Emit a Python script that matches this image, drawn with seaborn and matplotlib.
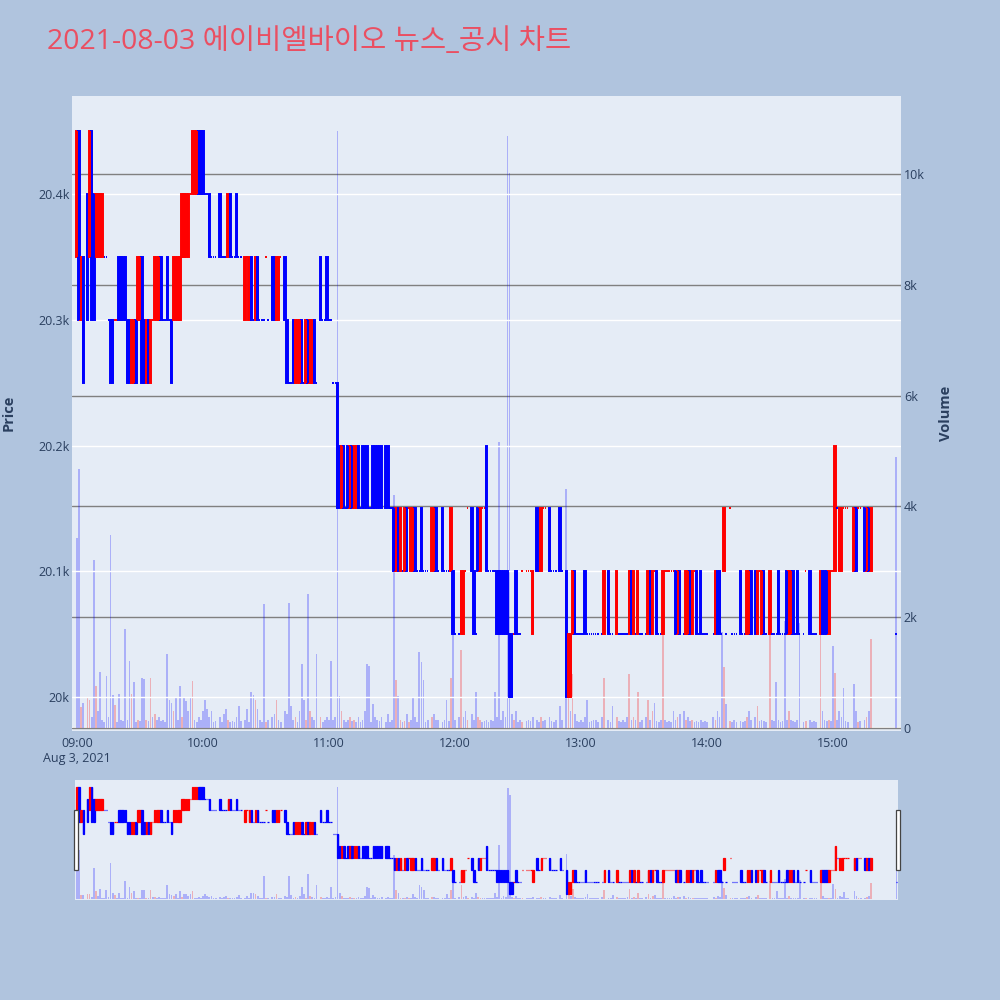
import matplotlib
matplotlib.use("Agg")
import matplotlib.pyplot as plt
from matplotlib.patches import Rectangle
import numpy as np
import pandas as pd
import seaborn as sns

# one row per traded minute, minutes after 09:00, prices in KRW
minutes = [
    0, 1, 2, 3, 5, 6, 7, 8, 9, 10, 11, 12, 13, 14, 15, 16, 17, 18, 19, 20, 21, 22, 23, 24, 25, 26, 27, 28, 29,
    30, 31, 32, 33, 34, 35, 36, 37, 38, 39, 40, 41, 42, 43, 44, 45, 46, 47, 48, 49, 50, 51, 52, 53, 54, 55, 56, 57, 58, 59,
    60, 61, 62, 63, 64, 65, 66, 68, 69, 70, 71, 72, 73, 74, 75, 76, 77, 78, 80, 81, 82, 83, 84, 85, 86, 87, 88, 89,
    90, 91, 93, 94, 95, 96, 97, 99, 100, 101, 102, 103, 104, 105, 106, 107, 108, 109, 110, 111, 112, 113, 114, 116, 117, 118, 119,
    120, 121, 122, 123, 124, 125, 126, 127, 128, 129, 130, 131, 132, 133, 134, 135, 136, 137, 138, 139, 140, 141, 142, 143, 144, 145,
    147, 148, 149, 150, 151, 152, 153, 154, 155, 156, 157, 158, 159, 160, 161, 162, 163, 164, 165, 166, 167,
    169, 170, 171, 172, 174, 175, 176, 177, 178, 179,
    180, 182, 183, 184, 185, 186, 188, 189, 190, 191, 192, 193, 194, 195, 196, 197, 198, 199, 200, 201, 202, 203, 204, 205, 206, 207,
    208, 209, 210, 211, 212, 214, 215, 216, 217, 219, 220, 221, 222, 223, 225, 226, 227, 228, 230, 231, 233, 234, 235, 236, 237, 238, 239,
    240, 241, 242, 243, 244, 245, 246, 247, 248, 250, 251, 253, 254, 255, 257, 258, 259, 260, 261, 262,
    263, 264, 265, 266, 267, 268, 269, 271, 272, 273, 274, 275, 276, 277, 278,
    279, 280, 281, 282, 283, 284, 285, 286, 287, 289, 290, 291, 292, 293, 294, 295, 296, 297, 298, 299,
    300, 303, 304, 305, 306, 307, 308, 309, 311, 312, 313, 314, 316, 317, 318, 319, 320, 321, 323, 324, 325, 326, 327, 328,
    330, 331, 332, 333, 334, 335, 336, 337, 338, 339, 340, 341, 342, 343, 344, 346, 347, 349, 350, 351, 352,
    354, 355, 356, 357, 358, 359,
    360, 361, 362, 363, 364, 365, 366, 367, 370, 371, 372, 373, 375, 376, 377, 378, 390,
]
opens = [
    20350, 20450, 20300, 20350, 20400, 20350, 20450, 20400, 20350, 20350, 20350, 20350, 20350, 20350, 20300, 20300, 20300, 20300,
    20300, 20350, 20350, 20350, 20350, 20300, 20300, 20250, 20250, 20300, 20300, 20300, 20350, 20300, 20250, 20300, 20250, 20300,
    20300, 20300, 20300, 20350, 20300, 20300, 20350, 20300, 20300, 20300, 20300, 20300, 20300, 20350, 20350, 20350, 20350, 20400,
    20400, 20400, 20400, 20450, 20450,
    20450, 20400, 20400, 20400, 20350, 20350, 20350, 20400, 20350, 20350, 20350, 20350, 20400, 20350, 20350, 20400, 20350, 20350,
    20300, 20350, 20300, 20350, 20300, 20300, 20350, 20300, 20300, 20300, 20350, 20300, 20350, 20350, 20300, 20300, 20350, 20350,
    20300, 20250, 20250, 20300, 20250, 20250, 20250, 20300, 20250, 20250, 20300, 20250, 20250, 20300, 20250, 20350, 20300, 20300, 20350,
    20300, 20300, 20250, 20250, 20250, 20200, 20150, 20200, 20150, 20200, 20150, 20200, 20150, 20150, 20200, 20150, 20200, 20200,
    20200, 20150, 20150, 20200, 20200, 20200, 20200, 20200,
    20200, 20200, 20150, 20150, 20150, 20100, 20150, 20100, 20100, 20100, 20150, 20150, 20100, 20100, 20150, 20100, 20100, 20150,
    20100, 20100, 20100,
    20100, 20100, 20150, 20100, 20150, 20100, 20100, 20100, 20100, 20100,
    20050, 20050, 20050, 20050, 20100, 20150, 20150, 20100, 20050, 20150, 20100, 20150, 20150, 20200, 20100, 20100, 20100, 20100,
    20100, 20100, 20100, 20100, 20100, 20100, 20050, 20050, 20050, 20100, 20050, 20050, 20100, 20100, 20100, 20100, 20050, 20150,
    20100, 20100, 20150, 20150, 20150, 20100, 20100, 20100, 20150, 20100, 20100, 20000, 20000, 20050, 20100, 20050, 20050,
    20050, 20050, 20100, 20050, 20050, 20050, 20050, 20050, 20050,
    20050, 20050, 20100, 20050, 20050, 20050,
    20050, 20050, 20050, 20050, 20050,
    20050, 20100, 20050, 20050, 20050, 20050, 20050,
    20050, 20050, 20100, 20050, 20100, 20100, 20050, 20050,
    20050, 20100, 20100, 20100, 20100, 20100, 20100, 20050, 20100,
    20050, 20050, 20050, 20100, 20050, 20100, 20100, 20050, 20100, 20050, 20050,
    20050, 20050, 20050, 20100, 20100, 20050, 20100, 20050,
    20150, 20050, 20050, 20050,
    20100, 20050, 20050, 20050, 20050, 20100,
    20100, 20050, 20100, 20050, 20100, 20050,
    20050, 20050, 20050, 20050, 20100, 20050, 20050, 20050, 20100, 20050, 20050, 20100, 20050, 20100, 20050,
    20050, 20100,
    20100, 20050, 20050, 20050,
    20050, 20100, 20100, 20100, 20050, 20100,
    20100, 20100, 20150, 20100, 20100, 20150, 20150, 20150,
    20100, 20150, 20150, 20150,
    20150, 20100, 20150, 20100,
    20050,
]
highs = [
    20450, 20450, 20350, 20350, 20400, 20450, 20450, 20400, 20400, 20400, 20400, 20400, 20350, 20350, 20300, 20300, 20300, 20300,
    20300, 20350, 20350, 20350, 20350, 20300, 20300, 20300, 20300, 20300, 20350, 20350, 20350, 20300, 20300, 20300, 20300, 20300,
    20350, 20350, 20350, 20350, 20300, 20300, 20350, 20300, 20300, 20350, 20350, 20350, 20350, 20400, 20400, 20400, 20400, 20400,
    20450, 20450, 20450, 20450, 20450,
    20450, 20400, 20400, 20400, 20350, 20350, 20350, 20400, 20350, 20350, 20350, 20400, 20400, 20350, 20350, 20400, 20350, 20350,
    20350, 20350, 20350, 20350, 20300, 20350, 20350, 20300, 20300, 20300, 20350, 20300, 20350, 20350, 20350, 20350, 20350, 20350,
    20300, 20250, 20250, 20300, 20300, 20300, 20300, 20300, 20250, 20300, 20300, 20300, 20300, 20300, 20250, 20350, 20300, 20300, 20350,
    20300, 20300, 20250, 20250, 20250, 20200, 20200, 20200, 20150, 20200, 20200, 20200, 20200, 20200, 20200, 20150, 20200, 20200,
    20200, 20150, 20150, 20200, 20200, 20200, 20200, 20200,
    20200, 20200, 20150, 20150, 20150, 20150, 20150, 20150, 20100, 20150, 20150, 20150, 20150, 20150, 20150, 20100, 20100, 20150,
    20100, 20100, 20100,
    20150, 20150, 20150, 20100, 20150, 20100, 20100, 20100, 20150, 20100,
    20050, 20050, 20100, 20100, 20100, 20150, 20150, 20100, 20050, 20150, 20150, 20150, 20150, 20200, 20100, 20100, 20100, 20100,
    20100, 20100, 20100, 20100, 20100, 20100, 20050, 20050, 20050, 20100, 20050, 20050, 20100, 20100, 20100, 20100, 20100, 20150,
    20100, 20150, 20150, 20150, 20150, 20100, 20100, 20100, 20150, 20100, 20100, 20050, 20050, 20100, 20100, 20050, 20050,
    20050, 20050, 20100, 20050, 20050, 20050, 20050, 20050, 20050,
    20050, 20100, 20100, 20050, 20050, 20100,
    20050, 20050, 20050, 20050, 20050,
    20100, 20100, 20100, 20050, 20100, 20050, 20050,
    20050, 20100, 20100, 20100, 20100, 20100, 20050, 20050,
    20100, 20100, 20100, 20100, 20100, 20100, 20100, 20100, 20100,
    20050, 20100, 20100, 20100, 20100, 20100, 20100, 20050, 20100, 20050, 20050,
    20050, 20050, 20100, 20100, 20100, 20050, 20150, 20050,
    20150, 20050, 20050, 20050,
    20100, 20050, 20050, 20100, 20100, 20100,
    20100, 20100, 20100, 20100, 20100, 20050,
    20100, 20050, 20050, 20050, 20100, 20050, 20050, 20050, 20100, 20100, 20100, 20100, 20050, 20100, 20050,
    20050, 20100,
    20100, 20050, 20050, 20050,
    20100, 20100, 20100, 20100, 20100, 20100,
    20100, 20200, 20150, 20150, 20150, 20150, 20150, 20150,
    20150, 20150, 20150, 20150,
    20150, 20150, 20150, 20150,
    20050,
]
lows = [
    20350, 20300, 20300, 20250, 20300, 20350, 20300, 20300, 20350, 20350, 20350, 20350, 20350, 20350, 20300, 20250, 20250, 20300,
    20300, 20300, 20300, 20300, 20300, 20250, 20250, 20250, 20250, 20250, 20300, 20300, 20250, 20250, 20250, 20250, 20250, 20300,
    20300, 20300, 20300, 20300, 20300, 20300, 20300, 20300, 20250, 20300, 20300, 20300, 20300, 20350, 20350, 20350, 20350, 20400,
    20400, 20400, 20400, 20400, 20400,
    20400, 20400, 20400, 20350, 20350, 20350, 20350, 20350, 20350, 20350, 20350, 20350, 20350, 20350, 20350, 20350, 20350, 20350,
    20300, 20350, 20300, 20300, 20300, 20300, 20300, 20300, 20300, 20300, 20350, 20300, 20300, 20300, 20300, 20300, 20350, 20300,
    20250, 20250, 20250, 20250, 20250, 20250, 20250, 20250, 20250, 20250, 20250, 20250, 20250, 20250, 20250, 20300, 20300, 20300, 20300,
    20300, 20300, 20250, 20250, 20150, 20150, 20150, 20150, 20150, 20150, 20150, 20150, 20150, 20150, 20150, 20150, 20150, 20150,
    20150, 20150, 20150, 20150, 20150, 20150, 20150, 20150,
    20150, 20150, 20150, 20150, 20100, 20100, 20100, 20100, 20100, 20100, 20100, 20150, 20100, 20100, 20100, 20100, 20100, 20100,
    20100, 20100, 20100,
    20100, 20100, 20100, 20100, 20100, 20100, 20100, 20100, 20100, 20050,
    20050, 20050, 20050, 20050, 20100, 20150, 20100, 20050, 20050, 20100, 20100, 20150, 20150, 20100, 20100, 20100, 20100, 20100,
    20050, 20050, 20050, 20050, 20050, 20050, 20000, 20000, 20050, 20050, 20050, 20050, 20100, 20100, 20100, 20100, 20050, 20100,
    20100, 20100, 20150, 20150, 20100, 20100, 20100, 20100, 20100, 20100, 20000, 20000, 20000, 20050, 20050, 20050, 20050,
    20050, 20050, 20050, 20050, 20050, 20050, 20050, 20050, 20050,
    20050, 20050, 20050, 20050, 20050, 20050,
    20050, 20050, 20050, 20050, 20050,
    20050, 20050, 20050, 20050, 20050, 20050, 20050,
    20050, 20050, 20050, 20050, 20100, 20050, 20050, 20050,
    20050, 20100, 20100, 20100, 20100, 20100, 20050, 20050, 20050,
    20050, 20050, 20050, 20050, 20050, 20100, 20050, 20050, 20050, 20050, 20050,
    20050, 20050, 20050, 20050, 20050, 20050, 20100, 20050,
    20150, 20050, 20050, 20050,
    20050, 20050, 20050, 20050, 20050, 20050,
    20050, 20050, 20100, 20050, 20050, 20050,
    20050, 20050, 20050, 20050, 20050, 20050, 20050, 20050, 20050, 20050, 20050, 20050, 20050, 20050, 20050,
    20050, 20100,
    20050, 20050, 20050, 20050,
    20050, 20050, 20050, 20050, 20050, 20100,
    20100, 20100, 20150, 20100, 20100, 20150, 20150, 20150,
    20100, 20100, 20150, 20150,
    20100, 20100, 20100, 20100,
    20050,
]
closes = [
    20450, 20300, 20350, 20250, 20300, 20450, 20300, 20300, 20400, 20400, 20400, 20400, 20350, 20350, 20300, 20250, 20250, 20300,
    20300, 20300, 20300, 20300, 20300, 20250, 20250, 20300, 20300, 20250, 20350, 20350, 20250, 20250, 20300, 20250, 20300, 20300,
    20350, 20350, 20350, 20300, 20300, 20300, 20300, 20300, 20250, 20350, 20350, 20350, 20350, 20400, 20400, 20400, 20400, 20400,
    20450, 20450, 20450, 20400, 20400,
    20400, 20400, 20400, 20350, 20350, 20350, 20350, 20350, 20350, 20350, 20350, 20400, 20350, 20350, 20350, 20350, 20350, 20350,
    20350, 20350, 20350, 20300, 20300, 20350, 20300, 20300, 20300, 20300, 20350, 20300, 20300, 20300, 20350, 20350, 20350, 20300,
    20250, 20250, 20250, 20250, 20300, 20300, 20300, 20250, 20250, 20300, 20250, 20300, 20300, 20250, 20250, 20300, 20300, 20300, 20300,
    20300, 20300, 20250, 20250, 20150, 20150, 20200, 20150, 20150, 20150, 20200, 20150, 20200, 20200, 20150, 20150, 20150, 20150,
    20150, 20150, 20150, 20150, 20150, 20150, 20150, 20150,
    20150, 20150, 20150, 20150, 20100, 20150, 20100, 20150, 20100, 20150, 20100, 20150, 20150, 20150, 20100, 20100, 20100, 20100,
    20100, 20100, 20100,
    20150, 20150, 20100, 20100, 20100, 20100, 20100, 20100, 20150, 20050,
    20050, 20050, 20100, 20100, 20100, 20150, 20100, 20050, 20050, 20100, 20150, 20150, 20150, 20100, 20100, 20100, 20100, 20100,
    20050, 20050, 20050, 20050, 20050, 20050, 20000, 20000, 20050, 20050, 20050, 20050, 20100, 20100, 20100, 20100, 20100, 20100,
    20100, 20150, 20150, 20150, 20100, 20100, 20100, 20100, 20100, 20100, 20000, 20050, 20050, 20100, 20050, 20050, 20050,
    20050, 20050, 20050, 20050, 20050, 20050, 20050, 20050, 20050,
    20050, 20100, 20050, 20050, 20050, 20100,
    20050, 20050, 20050, 20050, 20050,
    20100, 20050, 20100, 20050, 20100, 20050, 20050,
    20050, 20100, 20050, 20100, 20100, 20050, 20050, 20050,
    20100, 20100, 20100, 20100, 20100, 20100, 20050, 20100, 20050,
    20050, 20100, 20100, 20050, 20100, 20100, 20050, 20050, 20050, 20050, 20050,
    20050, 20050, 20100, 20050, 20050, 20050, 20150, 20050,
    20150, 20050, 20050, 20050,
    20050, 20050, 20050, 20100, 20100, 20050,
    20050, 20100, 20100, 20100, 20050, 20050,
    20100, 20050, 20050, 20050, 20050, 20050, 20050, 20050, 20050, 20100, 20100, 20050, 20050, 20050, 20050,
    20050, 20100,
    20050, 20050, 20050, 20050,
    20100, 20050, 20050, 20050, 20100, 20100,
    20100, 20200, 20150, 20150, 20150, 20150, 20150, 20150,
    20150, 20100, 20150, 20150,
    20100, 20150, 20100, 20150,
    20050,
]
volumes = [
    3430, 4680, 380, 450, 540, 500, 200, 3030, 760, 300, 1010, 150, 100, 940, 200, 3480, 600, 420, 100, 620, 150, 120, 1790,
    150, 1210, 620, 830, 100, 150, 120, 900, 880, 150, 120, 900, 200, 250, 150, 200, 120, 150, 100, 1340, 500, 450, 300, 540,
    150, 760, 200, 540, 480, 300, 540, 850, 150, 100, 200, 150,
    300, 500, 350, 200, 300, 100, 120, 200, 100, 250, 350, 150, 100, 120, 100, 200, 400, 120, 150, 350, 100, 650, 600, 500,
    350, 150, 100, 2240, 100, 150, 200, 250, 500, 150, 100, 300, 250, 2260, 400, 150, 200, 100, 300, 1160, 500, 150, 2420,
    300, 200, 150, 1340, 200, 100, 150, 200,
    150, 1210, 150, 200, 10780, 580, 300, 150, 100, 150, 200, 120, 150, 100, 200, 100, 150, 300, 1150, 1120, 100, 440, 200,
    150, 120, 200,
    100, 260, 100, 150, 4200, 860, 580, 150, 100, 120, 250, 100, 150, 540, 200, 100, 1370, 1200, 860, 100, 150,
    200, 250, 150, 150, 100, 150, 500, 120, 900, 1680,
    150, 200, 1410, 200, 300, 150, 250, 150, 650, 200, 150, 100, 120, 150, 100, 150, 120, 650, 200, 5160, 150, 300, 200,
    10690, 10020, 250, 150, 300, 100, 150, 100, 120, 150, 120, 200, 150, 100, 200, 120, 150, 200, 120, 100, 150, 400, 150,
    4320, 1550, 300, 970, 250, 120, 100,
    150, 100, 200, 500, 100, 120, 150, 150, 100,
    200, 900, 150, 100, 400, 200,
    120, 100, 150, 100, 200,
    975, 150, 200, 150, 650, 100, 150,
    200, 500, 150, 300, 450, 120, 100, 150,
    1770, 150, 100, 120, 100, 300, 150, 200, 250,
    300, 150, 200, 120, 150, 100, 120, 100, 150, 100, 120,
    100, 200, 150, 300, 200, 1730, 1100, 440,
    120, 100, 150, 100,
    120, 100, 120, 200, 300, 150,
    200, 400, 120, 150, 120, 100,
    1800, 150, 120, 830, 150, 100, 120, 1930, 150, 300, 150, 120, 100, 150, 1900,
    100, 120,
    150, 100, 120, 100,
    1900, 300, 150, 120, 150, 120,
    1480, 1000, 150, 300, 200, 730, 120, 100,
    790, 300, 100, 120,
    150, 200, 300, 1610,
    4900,
]

price_ticks = [20000, 20100, 20200, 20300, 20400]
price_labels = ["20k", "20.1k", "20.2k", "20.3k", "20.4k"]
volume_ticks = [0, 2000, 4000, 6000, 8000, 10000]
volume_labels = ["0", "2k", "4k", "6k", "8k", "10k"]
time_ticks = [0, 60, 120, 180, 240, 300, 360]
time_labels = ["09:00\nAug 3, 2021", "10:00", "11:00", "12:00", "13:00", "14:00", "15:00"]
title = "2021-08-03 에이비엘바이오 뉴스_공시 차트"

UP, DOWN = "#FF0000", "#0000FF"
TEXT = "#2a3f5f"
PLOT_BG = "#E5ECF6"
PRICE_LIM = (19973, 20478)
VOL_LIM = (-54, 11408)


def candle_colors(df):
    cols, prev_c, prev = [], None, DOWN
    for o, c in zip(df["open"], df["close"]):
        if c > o:
            col = UP
        elif c < o:
            col = DOWN
        elif prev_c is not None and c != prev_c:
            col = UP if c > prev_c else DOWN
        else:
            col = prev
        cols.append(col)
        prev_c, prev = c, col
    return cols


def draw(ax_v, ax_p, df, lw):
    sns.histplot(data=df, x="minute", weights="volume", hue="vol_dir", hue_order=["down", "up"],
                 palette={"up": UP, "down": DOWN}, discrete=True, shrink=0.85, alpha=0.25,
                 linewidth=0, legend=False, ax=ax_v)
    ax_p.vlines(df["minute"], df["low"], df["high"], colors=df["color"], linewidth=lw)
    body_lo = df[["open", "close"]].min(axis=1)
    ax_p.bar(df["minute"], (df["close"] - df["open"]).abs(), bottom=body_lo, width=0.7,
             color=df["color"], edgecolor=df["color"], linewidth=lw)
    ax_v.set_ylim(*VOL_LIM)
    ax_p.set_ylim(*PRICE_LIM)
    for ax in (ax_v, ax_p):
        ax.set_xlabel("")
        ax.set_ylabel("")
        for s in ax.spines.values():
            s.set_visible(False)


df = pd.DataFrame({"minute": minutes, "open": opens, "high": highs, "low": lows,
                   "close": closes, "volume": volumes})
df["color"] = candle_colors(df)
df["vol_dir"] = np.where(df["close"] > df["close"].shift(1), "up", "down")

sns.set_theme(style="darkgrid")
plt.rcParams["font.family"] = ["Open Sans", "Noto Sans CJK KR", "DejaVu Sans"]

fig = plt.figure(figsize=(10, 10), dpi=100, facecolor="#B0C4DE")

# main chart: volume on the right axis, candles on the left axis
ax_v = fig.add_axes([0.072, 0.269, 0.829, 0.635])
ax_v.set_facecolor(PLOT_BG)
ax_p = ax_v.twinx()
draw(ax_v, ax_p, df, 1.4)
ax_v.set_xlim(-2.38, 392.38)

ax_v.axhline(0, color="white", lw=1.6, zorder=0.5)
ax_v.yaxis.tick_right()
ax_v.set_yticks(volume_ticks, volume_labels)
ax_v.grid(axis="y", color="#808080", lw=1)
ax_v.grid(axis="x", visible=False)
ax_p.yaxis.tick_left()
ax_p.set_yticks(price_ticks, price_labels)
ax_p.grid(axis="y", color="white", lw=1)
ax_p.grid(axis="x", visible=False)
ax_v.set_xticks(time_ticks, time_labels)
ax_v.tick_params(axis="x", length=0, pad=4, labelsize=9, labelcolor=TEXT)
ax_v.tick_params(axis="y", length=0, pad=2, labelsize=9, labelcolor=TEXT)
ax_p.tick_params(axis="y", length=0, pad=1.5, labelsize=9, labelcolor=TEXT)

fig.text(0.009, 0.587, "Price", rotation=90, ha="center", va="center", fontsize=10.5,
         fontweight="bold", color=TEXT)
fig.text(0.946, 0.587, "Volume", rotation=90, ha="center", va="center", fontsize=10.5,
         fontweight="bold", color=TEXT)
fig.text(0.047, 0.958, title, ha="left", va="center", fontsize=20.5, color="#EA4F62")

# range slider
ax_sv = fig.add_axes([0.0754, 0.100, 0.8226, 0.120])
ax_sv.set_facecolor(PLOT_BG)
ax_sp = ax_sv.twinx()
draw(ax_sv, ax_sp, df, 0.9)
ax_sv.set_xlim(-0.75, 390.75)
for ax in (ax_sv, ax_sp):
    ax.set_xticks([])
    ax.set_yticks([])
    ax.grid(False)

for hx in (0.0737, 0.8962):
    fig.add_artist(Rectangle((hx, 0.130), 0.0039, 0.060, transform=fig.transFigure,
                             facecolor="white", edgecolor="#444444", lw=0.9))

fig.savefig("out.png", dpi=100, facecolor=fig.get_facecolor())
